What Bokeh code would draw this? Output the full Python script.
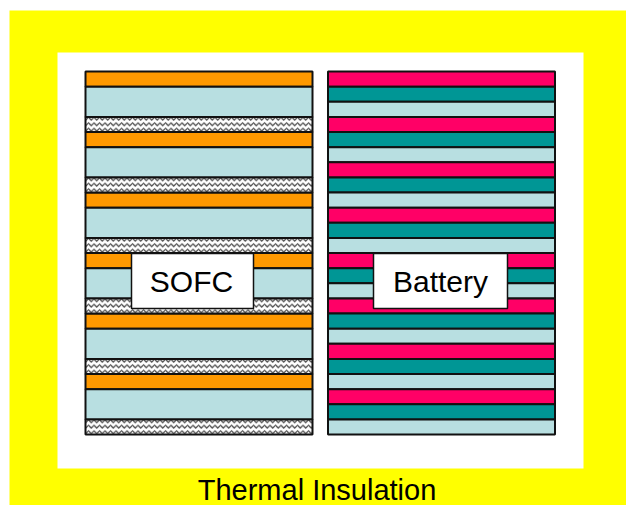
from bokeh.plotting import figure
from bokeh.models import Range1d
from bokeh.core.properties import value
from bokeh.embed import file_html
from bokeh.resources import INLINE

# ---- data ----
sofc_layer_names = ["Interconnect", "Cell", "Seal"]
sofc_layer_thickness = [1, 2, 1]
sofc_layer_colors = ["#FF9900", "#B8DFE1", "#FFFFFF"]
sofc_repeats = 6

battery_layer_names = ["Anode", "Cathode", "Separator"]
battery_layer_thickness = [1, 1, 1]
battery_layer_colors = ["#FF0066", "#009695", "#B8DFE1"]
battery_repeats = 8

stack_labels = ["SOFC", "Battery"]
footer_label = "Thermal Insulation"

# ---- layout (pixel x, layer-unit y) ----
W, H = 626, 505
unit = 15.125                      # px per layer unit
y_top = 434 / unit
y_bot = (434 - H) / unit

def sy(py):
    return (434 - py) / unit

p = figure(width=W, height=H, output_backend="svg", toolbar_location=None,
           x_range=Range1d(0, W), y_range=Range1d(y_bot, y_top),
           min_border=0, border_fill_color="white", background_fill_color="white",
           outline_line_color=None)
p.axis.visible = False
p.grid.visible = False

# yellow thermal insulation + white inner
p.quad(left=[9], right=[W], top=[sy(10)], bottom=[y_bot], fill_color="#FFFF00", line_color=None)
p.quad(left=[57], right=[583], top=[sy(52)], bottom=[sy(468)], fill_color="white", line_color=None)

def build_stack(names, thick, colors, repeats):
    L = []
    top = sum(thick) * repeats
    for r in range(repeats):
        for n, t, c in zip(names, thick, colors):
            L.append((n, top, top - t, c))
            top -= t
    return L

sofc = build_stack(sofc_layer_names, sofc_layer_thickness, sofc_layer_colors, sofc_repeats)
batt = build_stack(battery_layer_names, battery_layer_thickness, battery_layer_colors, battery_repeats)

sx0, sx1 = 85, 312
bx0, bx1 = 327.5, 554.5

plain = [l for l in sofc if l[0] != "Seal"]
seal = [l for l in sofc if l[0] == "Seal"]
p.quad(left=sx0, right=sx1, top=[l[1] for l in plain], bottom=[l[2] for l in plain],
       fill_color=[l[3] for l in plain], line_color="#111111", line_width=2)
p.quad(left=sx0, right=sx1, top=[l[1] for l in seal], bottom=[l[2] for l in seal],
       fill_color="white", line_color="#111111", line_width=2,
       hatch_pattern="horizontal_wave", hatch_color="#444444", hatch_scale=5.5, hatch_weight=1.2)
p.quad(left=bx0, right=bx1, top=[l[1] for l in batt], bottom=[l[2] for l in batt],
       fill_color=[l[3] for l in batt], line_color="#111111", line_width=2)

# label boxes
p.quad(left=[131, 373], right=[253, 507], top=[sy(253)] * 2, bottom=[sy(308)] * 2,
       fill_color="white", line_color="#111111", line_width=1.5)
p.text(x=[191, 440], y=[sy(280.5)] * 2, text=stack_labels, text_align="center",
       text_baseline="middle", text_font=value("Liberation Sans"), text_font_size="30px",
       text_color="black")

p.text(x=[316.5], y=[sy(489)], text=[footer_label], text_align="center",
       text_baseline="middle", text_font=value("Liberation Sans"), text_font_size="29px",
       text_color="black")

open("out.html", "w").write(file_html(p, INLINE))
